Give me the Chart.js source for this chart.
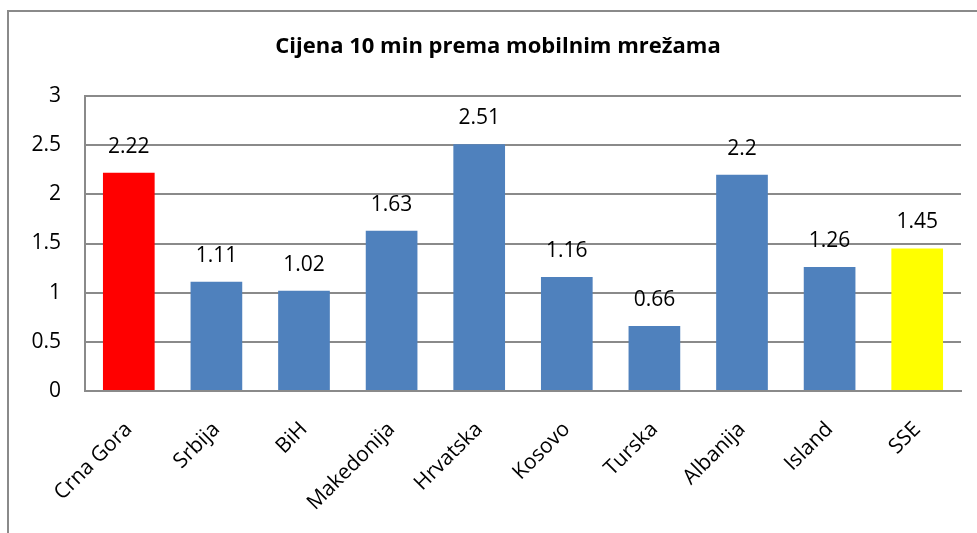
<!DOCTYPE html>
<html>
<head>
<meta charset="utf-8">
<script src="https://cdn.jsdelivr.net/npm/chart.js@4"></script>
<style>
  html, body { margin: 0; padding: 0; background: #fff; overflow: hidden; }
  #frame {
    position: absolute; left: 7px; top: 10px; width: 980px; height: 540px;
    border-left: 2px solid #8a8a8a; border-top: 2px solid #8a8a8a;
  }
  #wrap { position: absolute; left: 0; top: 0; width: 968px; height: 521px; }
</style>
</head>
<body>
<div id="frame"><div id="wrap"><canvas id="chart"></canvas></div></div>
<script>
/* ─── Data ───────────────────── */
const countries = ['Crna Gora', 'Srbija', 'BiH', 'Makedonija', 'Hrvatska',
                   'Kosovo', 'Turska', 'Albanija', 'Island', 'SSE'];
const prices = [2.22, 1.11, 1.02, 1.63, 2.51, 1.16, 0.66, 2.2, 1.26, 1.45];
const barColors = ['#FF0000', '#4F81BD', '#4F81BD', '#4F81BD', '#4F81BD',
                   '#4F81BD', '#4F81BD', '#4F81BD', '#4F81BD', '#FFFF00'];
const yTicks = [0, 0.5, 1, 1.5, 2, 2.5, 3];
const chartTitle = 'Cijena 10 min prema mobilnim mrežama';

const FONT = "'Open Sans', sans-serif";

/* title centred on the whole frame, value labels above bars */
const decorations = {
  id: 'decorations',
  afterDraw(chart) {
    const ctx = chart.ctx;
    ctx.save();
    ctx.fillStyle = '#000';
    ctx.textAlign = 'center';
    ctx.textBaseline = 'middle';
    ctx.font = `bold 22px ${FONT}`;
    ctx.fillText(chartTitle, 489, 35);
    ctx.restore();
  },
  afterDatasetsDraw(chart) {
    const ctx = chart.ctx;
    const meta = chart.getDatasetMeta(0);
    ctx.save();
    ctx.font = `21px ${FONT}`;
    ctx.fillStyle = '#000';
    ctx.textAlign = 'center';
    ctx.textBaseline = 'alphabetic';
    meta.data.forEach((bar, i) => {
      ctx.fillText(String(prices[i]), bar.x, bar.y - 20);
    });
    ctx.restore();
  }
};

new Chart(document.getElementById('chart'), {
  type: 'bar',
  data: {
    labels: countries,
    datasets: [{
      data: prices,
      backgroundColor: barColors,
      borderWidth: 0,
      barPercentage: 0.59,
      categoryPercentage: 1
    }]
  },
  options: {
    responsive: true,
    maintainAspectRatio: false,
    animation: false,
    layout: { padding: { left: 0, right: 16, top: 84, bottom: 0 } },
    plugins: {
      legend: { display: false },
      tooltip: { enabled: false },
      title: { display: false }
    },
    scales: {
      x: {
        grid: { display: false, drawTicks: false },
        border: { display: true, color: '#8a8a8a', width: 2 },
        ticks: {
          color: '#000',
          font: { family: FONT, size: 21 },
          maxRotation: 45,
          minRotation: 45,
          padding: 26
        },
        afterFit(scale) { scale.height = 142; }
      },
      y: {
        min: 0,
        max: 3,
        afterBuildTicks(scale) { scale.ticks = yTicks.map(v => ({ value: v })); },
        grid: { color: '#8a8a8a', lineWidth: 2, drawTicks: false },
        border: { display: true, color: '#8a8a8a', width: 2 },
        ticks: {
          color: '#000',
          font: { family: FONT, size: 21 },
          padding: 24,
          callback: v => String(v)
        },
        afterFit(scale) { scale.width = 76; }
      }
    }
  },
  plugins: [decorations]
});
</script>
</body>
</html>
